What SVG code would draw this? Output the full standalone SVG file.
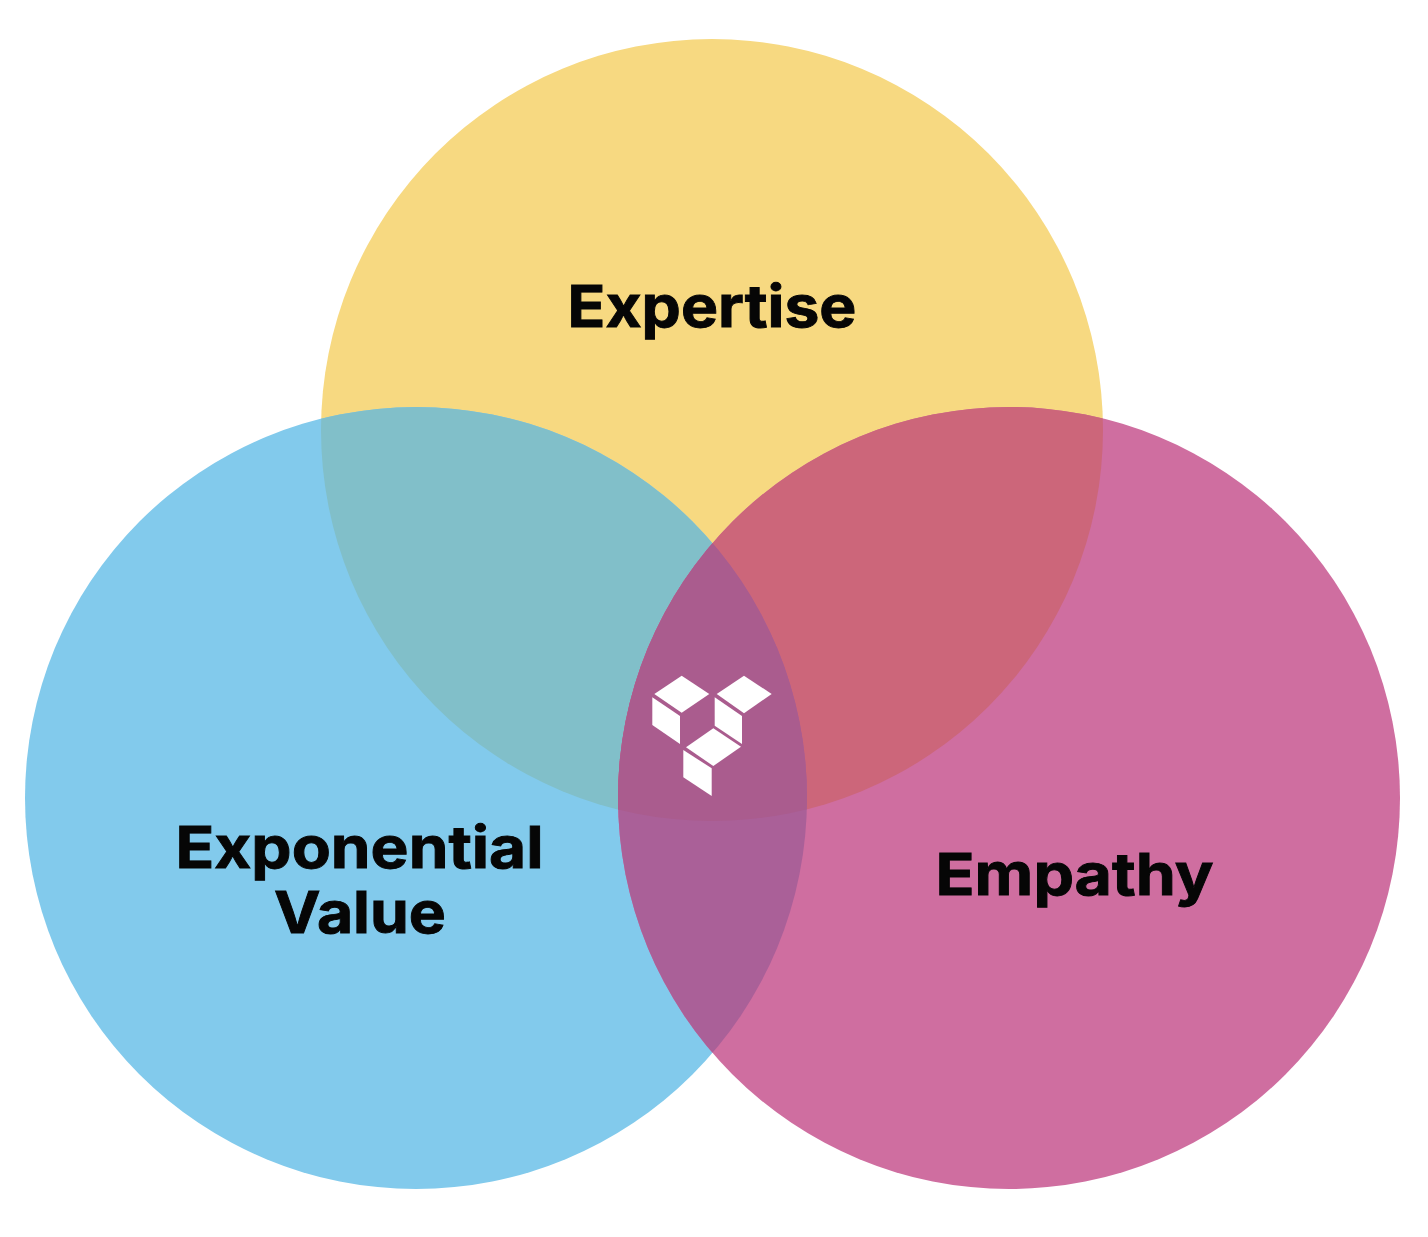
<svg xmlns="http://www.w3.org/2000/svg" width="1428" height="1237" viewBox="0 0 1428 1237">
<style>
.label{font-family:"Inter","Liberation Sans",sans-serif;font-weight:700;font-size:58px;fill:#060606;stroke:#060606;stroke-width:0.9px}
.logo{fill:#fff}
</style>
<defs>
<clipPath id="clipY"><circle cx="712" cy="430" r="391"/></clipPath>
<clipPath id="clipB"><circle cx="416" cy="798" r="391"/></clipPath>
<clipPath id="clipP"><circle cx="1009" cy="798" r="391"/></clipPath>
</defs>
<rect width="1428" height="1237" fill="#fff"/>
<g id="node-expertise">
<circle cx="712" cy="430" r="391" fill="#F7D981"/>
<text class="label" x="567.5" y="327" textLength="289" lengthAdjust="spacingAndGlyphs">Expertise</text>
</g>
<g id="node-exponential-value">
<circle cx="416" cy="798" r="391" fill="#82CAEC"/>
<g clip-path="url(#clipY)"><circle cx="416" cy="798" r="391" fill="#81BFC9"/></g>
<text class="label" x="175.5" y="868" textLength="368" lengthAdjust="spacingAndGlyphs">Exponential</text>
<text class="label" x="274" y="933" textLength="172" lengthAdjust="spacingAndGlyphs">Value</text>
</g>
<g id="node-empathy">
<circle cx="1009" cy="798" r="391" fill="#CF6EA0"/>
<g clip-path="url(#clipY)"><circle cx="1009" cy="798" r="391" fill="#CC667A"/></g>
<g clip-path="url(#clipB)"><circle cx="1009" cy="798" r="391" fill="#AA6098"/></g>
<g clip-path="url(#clipB)"><g clip-path="url(#clipY)"><circle cx="1009" cy="798" r="391" fill="#AA5C8E"/></g></g>
<text class="label" x="935.5" y="895" textLength="278" lengthAdjust="spacingAndGlyphs">Empathy</text>
</g>
<g id="node-logo" class="logo">
<polygon points="681.7,675.7 709.3,694 681.7,712.7 654.3,694"/>
<polygon points="652.3,697.3 680,716 680,744 652.3,725"/>
<polygon points="744,675.7 771.7,694 744,713.3 716.7,694"/>
<polygon points="714.7,697.3 742,716 742,744 714.7,725.7"/>
<polygon points="713.3,728.3 741,746.7 713.3,766 686,747.3"/>
<polygon points="683.3,750 711.7,768.3 711.7,796 683.3,777.3"/>
</g>
<g id="connectors"/>
</svg>
